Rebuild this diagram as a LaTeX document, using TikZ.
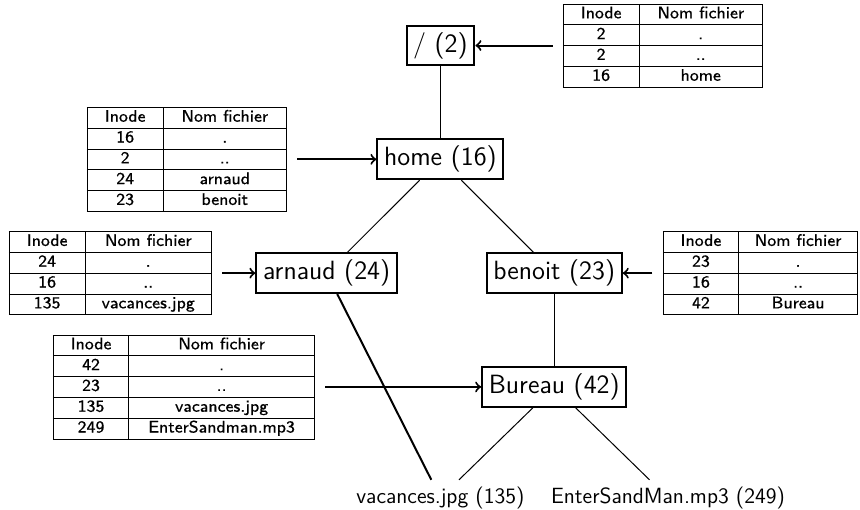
\documentclass[tikz,border=0pt]{standalone}
\usepackage{array}
\usepackage{fontspec}
\newfontfamily\tabfont{lmsans8-regular}[Extension=.otf, FakeBold=0.5]
\newcolumntype{C}[1]{>{\centering\arraybackslash}p{#1}}
\def\inodes#1#2{{\tabfont\fontsize{8.4}{10}\selectfont\begin{tabular}{|C{25.4pt}|C{#1}|}\hline Inode & Nom fichier\\\hline #2\end{tabular}}}
\tikzset{
	dossier/.style={draw, line width=1pt, font=\sffamily\fontsize{13.2}{15}\selectfont},
	fichier/.style={font=\sffamily\fontsize{11}{13}\selectfont},
	repertoire/.style={inner sep=0pt},
	lien/.style={line width=1pt, ->, shorten <=5pt}
}

\begin{document}
\begin{tikzpicture}
			%%%%% START %%%%%
			\useasboundingbox (-7.741, -8.146) rectangle (7.373, 0.800);
			
			% arborescence
			\node[dossier] (racine) at (0, 0) {/ (2)};
			\node[dossier] (home) at (0, -2) {home (16)};
			\node[dossier] (arnaud) at (-2, -4) {arnaud (24)};
			\node[dossier] (benoit) at (2, -4) {benoit (23)};
			\node[dossier] (bureau) at (2, -6) {Bureau (42)};
			\node[fichier] (vacances) at (0, -7.95) {vacances.jpg (135)};
			\node[fichier] (enter) at (4, -7.95) {EnterSandMan.mp3 (249)};
			
			\draw[line width=0.5pt] (racine) -- (home);
			\draw[line width=0.5pt] (home) -- (arnaud);
			\draw[line width=0.5pt] (home) -- (benoit);
			\draw[line width=0.5pt] (benoit) -- (bureau);
			\draw[line width=0.5pt] (bureau) -- (vacances);
			\draw[line width=0.5pt] (bureau) -- (enter);
			\draw[line width=1pt] (arnaud) -- (vacances);
			
			% contenus des repertoires
			\node[repertoire] (trac) at (3.91, 0) {\inodes{49.4pt}{2 & . \\\hline 2 & .. \\\hline 16 & home \\\hline}};
			\node[repertoire] (thome) at (-4.455, -2) {\inodes{49.4pt}{16 & . \\\hline 2 & .. \\\hline 24 & arnaud \\\hline 23 & benoit \\\hline}};
			\node[repertoire] (tarnaud) at (-5.80, -4) {\inodes{50.9pt}{24 & . \\\hline 16 & .. \\\hline 135 & vacances.jpg \\\hline}};
			\node[repertoire] (tbenoit) at (5.62, -4) {\inodes{46.9pt}{23 & . \\\hline 16 & .. \\\hline 42 & Bureau \\\hline}};
			\node[repertoire] (tbureau) at (-4.51, -6) {\inodes{80.4pt}{42 & . \\\hline 23 & .. \\\hline 135 & vacances.jpg \\\hline 249 & EnterSandman.mp3 \\\hline}};
			
			\draw[lien] (trac) -- (racine);
			\draw[lien] (thome) -- (home);
			\draw[lien] (tarnaud) -- (arnaud);
			\draw[lien] (tbenoit) -- (benoit);
			\draw[lien] (tbureau) -- (bureau);
			%%%%% END %%%%%
\end{tikzpicture}
\end{document}
